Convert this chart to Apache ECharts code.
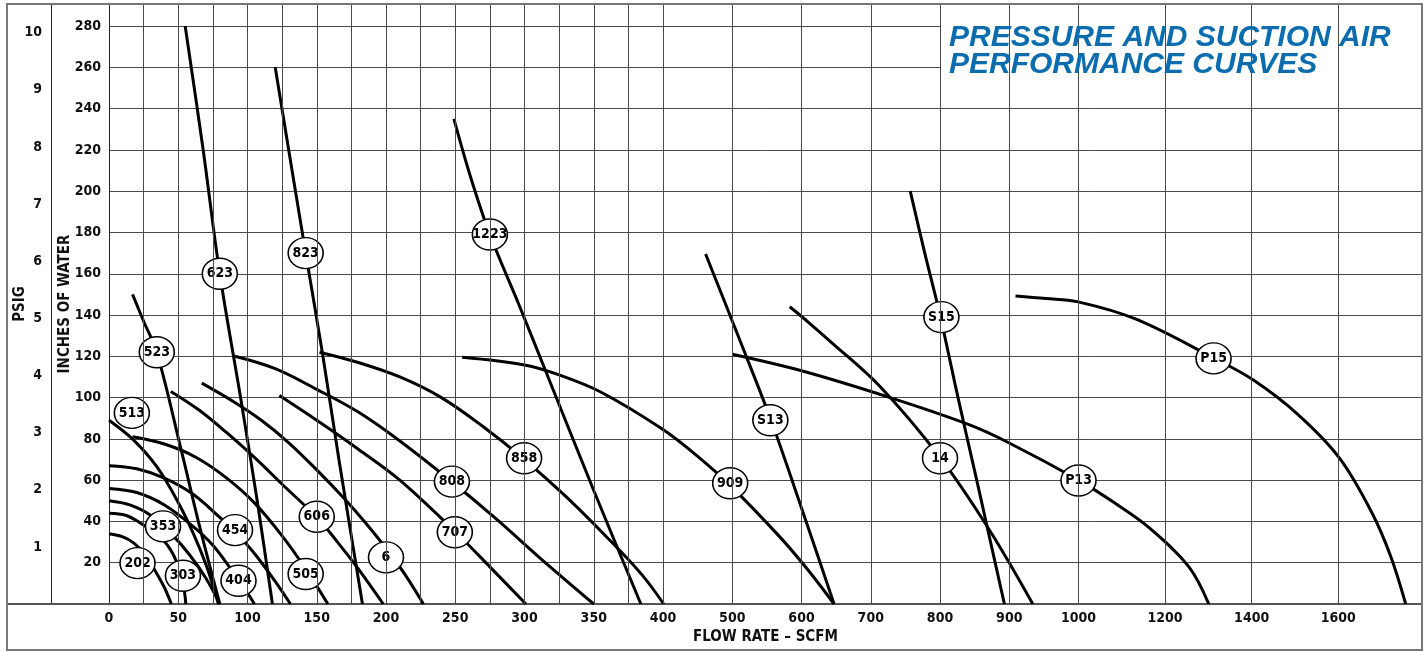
<!DOCTYPE html>
<html><head><meta charset="utf-8">
<script src="https://cdn.jsdelivr.net/npm/echarts@6/dist/echarts.min.js"></script>
<style>html,body{margin:0;padding:0;background:#fff;} #main{width:1427px;height:652px;}</style>
</head><body><div id="main"></div>
<script>
// ---------- axis tick data ----------
const xTickValues = [0,50,100,150,200,250,300,350,400,500,600,700,800,900,1000,1200,1400,1600];
const xTickLabels = ['0','50','100','150','200','250','300','350','400','500','600','700','800','900','1000','1200','1400','1600'];
const xGridValues = [25,50,75,100,125,150,175,200,225,250,275,300,325,350,375,400,500,600,700,800,900,1000,1200,1400,1600];
const psigTicks = [1,2,3,4,5,6,7,8,9,10];
const inchesPerPsi = 27.68;
// piecewise scale of the printed chart (SCFM -> axis units)
const xScaleBreaks = [[0,0],[400,8],[1000,14],[1600,17.75]];

// ---------- curves: [SCFM, inches of water] ----------
const c202 = [[0,34],[10,32.5],[18,29.5],[26,24],[33,16.5],[40,8],[45,0]];
const c303 = [[0,44],[12,43],[22,39.5],[37,32.5],[46,24.5],[51,16],[54,8],[55.5,0]];
const c353 = [[0,50],[15,48],[30,43],[45,34],[58,24],[70,12.5],[80,0]];
const c404 = [[0,56],[20,54],[40,48],[60,38],[75,28.5],[88,17],[96,9.5],[105,0]];
const c454 = [[0,67],[20,65.5],[40,61],[60,53.5],[80,42],[91,35],[105,24.5],[120,11],[131,0]];
const c505 = [[17,81],[40,77.5],[63,71],[85,61],[105,49],[125,33],[142,17],[158,0]];
const c513 = [[0,89],[17.6,79.5],[34.5,66.5],[49,50.4],[61,34],[70.6,18],[79,0]];
const c523 = [[17,150],[25,137],[34.5,122],[52,75],[66,36],[80,0]];
const c606 = [[44.6,103],[65,94],[85,83],[105,71],[125,58],[150,42],[165,30],[180,17],[198,0]];
const c6   = [[67,107],[90,98],[110,89],[130,78],[150,65],[170,51],[185,39.5],[200,27],[214,14],[227,0]];
const c623 = [[55,280],[68,220],[80,160],[95,100],[107,50],[118,0]];
const c823 = [[120,260],[142,170],[154,122],[166,70],[183,0]];
const c707 = [[123,101],[150,89],[180,75],[210,60],[250,35],[275,18],[301,0]];
const c808 = [[91,120],[120,114],[150,104],[180,93],[210,79],[248,59],[280,41],[310,23],[350,0]];
const c858 = [[152,122],[180,117],[210,110],[240,100],[270,86],[300,70],[330,52],[360,32],[385,14],[401,0]];
const c1223 = [[249,235],[261,207],[275,179],[296,145],[317,110],[350,55],[384,0]];
const c909 = [[255,119.5],[300,115.8],[325,111],[355,102.7],[400,84.5],[453,70.7],[497,57.5],[569,32.4],[610,16.2],[647,0]];
const cS13 = [[461.5,169.6],[508,130.3],[556,89],[601,45.5],[647,0]];
const cS15 = [[757,200],[778,170],[800,140],[826,100],[853,60],[873,30],[893,0]];
const c14  = [[583,144],[610,136.5],[641,127.4],[713,105.5],[800,71],[872,35.5],[934,0]];
const cP13 = [[500,121],[600,113],[728,100],[841,87],[900,78],[1000,60],[1083,49],[1163,37],[1255,18],[1301,0]];
const cP15 = [[909,149.2],[953,148],[998,146.5],[1133,138],[1314,119],[1404,108.5],[1506,92],[1603,70.7],[1677,44.6],[1721,23.3],[1756,0]];

const curveNames = ['202','303','353','404','454','505','513','523','606','6','623','823','707','808','858','1223','909','S13','S15','14','P13','P15'];
const curveList  = [c202,c303,c353,c404,c454,c505,c513,c523,c606,c6,c623,c823,c707,c808,c858,c1223,c909,cS13,cS15,c14,cP13,cP15];

// ---------- curve tags ----------
const tagNames  = ['202','303','353','404','454','505','513','523','606','6','623','823','707','808','858','1223','909','S13','S15','14','P13','P15'];
const tagFlow   = [20.6,53.4,39,93.5,91,142,16.5,34.5,150,200,80,142,249.7,247.6,299.7,275,497,555,802,800,1000,1312];
const tagInches = [19.8,13.7,37.6,11.3,35.8,14.5,92.6,122,42.3,22.6,160,170,34.8,59.3,70.6,179,58.5,89,139,70.6,59.8,119];

function xs(v){
  const b = xScaleBreaks;
  for (let i = 1; i < b.length; i++){
    if (v <= b[i][0] || i === b.length - 1){
      const a = b[i-1], c = b[i];
      return a[1] + (v - a[0]) * (c[1] - a[1]) / (c[0] - a[0]);
    }
  }
}
function fmtX(u){
  for (let i = 0; i < xTickValues.length; i++){
    if (Math.abs(xs(xTickValues[i]) - u) < 1e-6) return xTickLabels[i];
  }
  return '';
}

const F = "'Liberation Sans Narrow', 'DejaVu Sans Condensed', 'Arial Narrow', sans-serif";
const GRID = '#4a4a4a';
const lblStyle = {fontFamily: F, fontWeight: 'bold', fontSize: 14, color: '#111'};

const series = [];
series.push({
  type: 'line', data: [], silent: true, z: 1,
  markLine: {
    silent: true, animation: false, symbol: ['none','none'], label: {show: false},
    lineStyle: {color: GRID, width: 1, type: 'solid'},
    emphasis: {disabled: true},
    data: xGridValues.map(v => ({xAxis: xs(v)}))
  }
});
curveList.forEach((c, i) => {
  series.push({
    type: 'line', name: curveNames[i], silent: true, z: 2,
    data: c.map(p => [xs(p[0]), p[1]]),
    smooth: 0.35, showSymbol: false, symbol: 'none',
    lineStyle: {color: '#000', width: 3}
  });
});
series.push({
  type: 'scatter', z: 3, silent: true,
  data: tagNames.map((n, i) => ({name: n, value: [xs(tagFlow[i]), tagInches[i]]})),
  symbol: 'circle', symbolSize: [35, 31],
  itemStyle: {color: '#fff', borderColor: '#000', borderWidth: 1.5, opacity: 1},
  label: {show: true, position: 'inside', formatter: '{b}', color: '#000', fontSize: 14, fontWeight: 'bold', fontFamily: F}
});

const yMaxIn = 290.7;
const option = {
  animation: false,
  backgroundColor: '#fff',
  title: {
    text: 'PRESSURE AND SUCTION AIR\nPERFORMANCE CURVES',
    left: 949, top: 24, padding: 0, z: 20,
    textStyle: {color: '#0b6cae', fontFamily: "'Liberation Sans', Arial, sans-serif", fontStyle: 'italic', fontWeight: 'bold', fontSize: 30, lineHeight: 27}
  },
  grid: {left: 109, right: 5, top: 4, bottom: 48, containLabel: false, outerBoundsMode: 'none'},
  xAxis: {
    type: 'value', min: 0, max: 18.96, interval: 0.25,
    axisLine: {show: true, lineStyle: {color: '#555', width: 2}},
    axisTick: {show: false}, splitLine: {show: false},
    axisLabel: Object.assign({customValues: xTickValues.map(xs), formatter: fmtX, margin: 7, hideOverlap: false, showMinLabel: true, showMaxLabel: true}, lblStyle),
    name: 'FLOW RATE – SCFM', nameLocation: 'middle', nameGap: 24,
    nameTextStyle: {fontFamily: F, fontWeight: 'bold', fontSize: 15, color: '#111'}
  },
  yAxis: [
    {
      type: 'value', min: 0, max: yMaxIn, interval: 20, position: 'left',
      axisLine: {show: true, lineStyle: {color: '#222', width: 1}},
      axisTick: {show: false},
      splitLine: {show: true, lineStyle: {color: GRID, width: 1}},
      axisLabel: Object.assign({formatter: v => (v > 0 && v <= 280 && v % 20 === 0) ? String(v) : '', margin: 8}, lblStyle),
      name: 'INCHES OF WATER', nameLocation: 'middle', nameGap: 36, nameMoveOverlap: false,
      nameTextStyle: {fontFamily: F, fontWeight: 'bold', fontSize: 15, color: '#111'}
    },
    {
      type: 'value', min: 0, max: yMaxIn / inchesPerPsi, interval: 1, position: 'left', offset: 58,
      axisLine: {show: true, lineStyle: {color: '#222', width: 1}},
      axisTick: {show: false}, splitLine: {show: false},
      axisLabel: Object.assign({formatter: v => psigTicks.indexOf(v) >= 0 ? String(v) : '', margin: 9}, lblStyle),
      name: 'PSIG', nameLocation: 'middle', nameGap: 23, nameMoveOverlap: false,
      nameTextStyle: {fontFamily: F, fontWeight: 'bold', fontSize: 15, color: '#111'}
    }
  ],
  graphic: [
    {type: 'rect', z: 4, silent: true, shape: {x: 941, y: 5, width: 480, height: 102.5}, style: {fill: '#fff'}},
    {type: 'line', z: 5, silent: true, shape: {x1: 7, y1: 604, x2: 109, y2: 604}, style: {stroke: '#555', lineWidth: 2}},
    {type: 'rect', z: 10, silent: true, shape: {x: 7, y: 4, width: 1415, height: 646}, style: {fill: 'none', stroke: '#777', lineWidth: 2}}
  ],
  series: series
};
const chart = echarts.init(document.getElementById('main'), null, {renderer: 'canvas'});
chart.setOption(option);
</script>
</body></html>
